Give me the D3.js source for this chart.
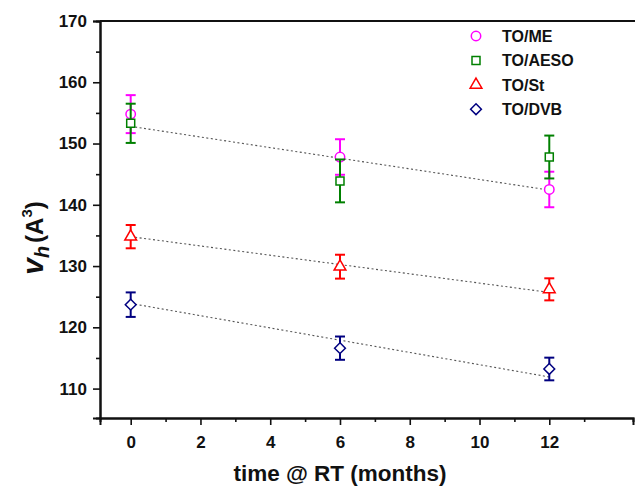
<!DOCTYPE html>
<html><head><meta charset="utf-8">
<script src="https://cdn.jsdelivr.net/npm/d3@7"></script>
<style>body{margin:0;background:#fff}svg{display:block;font-family:Arial,"Liberation Sans",sans-serif}</style>
</head><body><svg id="c" width="635" height="488"></svg>
<script>
const months = [0, 6, 12];
const seriesNames = ["TO/ME", "TO/AESO", "TO/St", "TO/DVB"];
const meValues = [154.8, 147.8, 142.5];
const meErrors = [3.1, 2.9, 2.9];
const aesoValues = [153.3, 143.9, 147.8];
const aesoErrors = [3.2, 3.5, 3.5];
const stValues = [134.8, 129.9, 126.2];
const stErrors = [1.9, 1.95, 1.8];
const dvbValues = [123.7, 116.6, 113.2];
const dvbErrors = [2.0, 1.9, 1.85];
const fitStart = [152.8, 134.8, 123.9];
const fitEnd = [142.4, 125.7, 111.9];
const xTicks = [0, 2, 4, 6, 8, 10, 12];
const yTicks = [110, 120, 130, 140, 150, 160, 170];

const colors = ["#ff00ff", "#008000", "#ff0000", "#000080"];
const diamond = { draw(ctx, size) { const r = Math.sqrt(size) / 2 * 1.35; ctx.moveTo(0, -r); ctx.lineTo(r, 0); ctx.lineTo(0, r); ctx.lineTo(-r, 0); ctx.closePath(); } };
const symbols = [d3.symbolCircle, d3.symbolSquare, d3.symbolTriangle, diamond];
const symSizes = [70, 64, 60, 64];
const series = [
  {name: seriesNames[0], v: meValues, e: meErrors},
  {name: seriesNames[1], v: aesoValues, e: aesoErrors},
  {name: seriesNames[2], v: stValues, e: stErrors},
  {name: seriesNames[3], v: dvbValues, e: dvbErrors}
];

const svg = d3.select("#c");
const x = d3.scaleLinear().domain([-0.88, 14.4]).range([100, 633]);
const y = d3.scaleLinear().domain([105.2, 170]).range([418, 21]);

// axes
const xAxis = svg.append("g").attr("transform", "translate(0,418)")
  .call(d3.axisBottom(x).tickValues(xTicks).tickSize(7).tickPadding(11).tickFormat(d3.format("d")));
const xMinor = svg.append("g").attr("transform", "translate(0,418)")
  .call(d3.axisBottom(x).tickValues([1,3,5,7,9,11,13]).tickSize(4).tickFormat(""));
const yAxis = svg.append("g").attr("transform", "translate(100,0)")
  .call(d3.axisLeft(y).tickValues(yTicks).tickSize(7).tickPadding(6).tickFormat(d3.format("d")));
const yMinor = svg.append("g").attr("transform", "translate(100,0)")
  .call(d3.axisLeft(y).tickValues([115,125,135,145,155,165]).tickSize(4).tickFormat(""));
[xAxis, xMinor, yAxis, yMinor].forEach(g => {
  g.select(".domain").attr("stroke", "#111").attr("stroke-width", 2);
  g.selectAll(".tick line").attr("stroke", "#111").attr("stroke-width", 1.6);
  g.selectAll(".tick text").attr("fill", "#111").attr("font-size", 17).attr("font-weight", "bold");
});
svg.append("line").attr("x1", 100).attr("x2", 635).attr("y1", y(170)).attr("y2", y(170))
  .attr("stroke", "#111").attr("stroke-width", 2);

// fit lines
fitStart.forEach((s, i) => {
  svg.append("line")
    .attr("x1", x(months[0])).attr("y1", y(s))
    .attr("x2", x(months[2])).attr("y2", y(fitEnd[i]))
    .attr("stroke", "#555").attr("stroke-width", 1.1).attr("stroke-dasharray", "2,2.5");
});

// error bars + markers
series.forEach((s, si) => {
  const g = svg.append("g").attr("stroke", colors[si]).attr("fill", "none");
  months.forEach((m, i) => {
    const cx = x(m), top = y(s.v[i] + s.e[i]), bot = y(s.v[i] - s.e[i]);
    g.append("line").attr("x1", cx).attr("x2", cx).attr("y1", top).attr("y2", bot).attr("stroke-width", 2);
    g.append("line").attr("x1", cx - 5).attr("x2", cx + 5).attr("y1", top).attr("y2", top).attr("stroke-width", 2);
    g.append("line").attr("x1", cx - 5).attr("x2", cx + 5).attr("y1", bot).attr("y2", bot).attr("stroke-width", 2);
    g.append("path").attr("d", d3.symbol().type(symbols[si]).size(symSizes[si])())
      .attr("transform", `translate(${cx},${y(s.v[i])})`)
      .attr("fill", "#fff").attr("stroke-width", 1.5);
  });
});

// legend
seriesNames.forEach((n, i) => {
  const ly = 36 + i * 24.4;
  svg.append("path").attr("d", d3.symbol().type(symbols[i]).size(symSizes[i])())
    .attr("transform", `translate(476,${ly})`).attr("fill", "#fff")
    .attr("stroke", colors[i]).attr("stroke-width", 1.5);
  svg.append("text").attr("x", 502).attr("y", ly + 6).text(n)
    .attr("font-size", 16).attr("font-weight", "bold").attr("fill", "#111");
});

// axis titles
svg.append("text").attr("x", 340).attr("y", 481).attr("text-anchor", "middle")
  .attr("font-size", 22.5).attr("font-weight", "bold").attr("fill", "#111").text("time @ RT (months)");
const yt = svg.append("text").attr("transform", "translate(43,238) rotate(-90)")
  .attr("text-anchor", "middle").attr("font-size", 24).attr("font-weight", "bold").attr("fill", "#111");
yt.append("tspan").attr("font-style", "italic").attr("font-size", 30).text("v");
yt.append("tspan").attr("font-style", "italic").attr("font-size", 20).attr("dy", 6).text("h");
yt.append("tspan").attr("dy", -6).attr("dx", 3).text("(A");
yt.append("tspan").attr("font-size", 15).attr("dy", -11).text("3");
yt.append("tspan").attr("dy", 11).text(")");
</script></body></html>
